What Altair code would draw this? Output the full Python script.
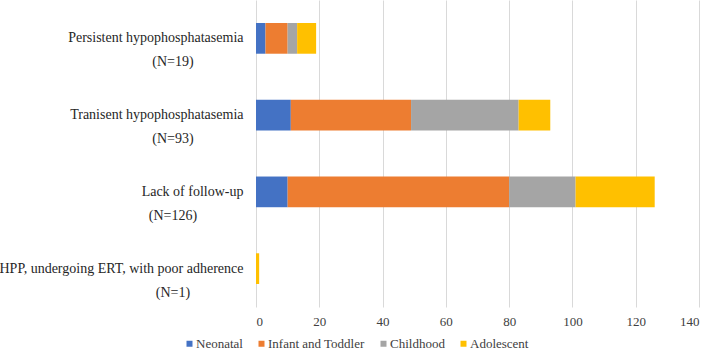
import altair as alt
import pandas as pd

# Outcome groups (top to bottom) and their group sizes
groups = [
    "Persistent hypophosphatasemia",
    "Tranisent hypophosphatasemia",
    "Lack of follow-up",
    "HPP, undergoing ERT, with poor adherence",
]
group_n = [19, 93, 126, 1]

# Age-at-presentation series, stacked left to right
ages = ["Neonatal", "Infant and Toddler", "Childhood", "Adolescent"]
age_colors = ["#4472C4", "#ED7D31", "#A5A5A5", "#FFC000"]

neonatal = [3, 11, 10, 0]
infant_toddler = [7, 38, 70, 0]
childhood = [3, 34, 21, 0]
adolescent = [6, 10, 25, 1]

x_ticks = [0, 20, 40, 60, 80, 100, 120, 140]

series = [neonatal, infant_toddler, childhood, adolescent]
rows = []
for k, (age, vals) in enumerate(zip(ages, series)):
    for g, v in zip(groups, vals):
        rows.append({"group": g, "age": age, "count": v, "order": k})
bars_df = pd.DataFrame(rows)

labels_df = pd.DataFrame(
    {"group": groups, "nlabel": [f"(N={n})" for n in group_n]}
)

FONT = "Liberation Serif"
TEXT = "#262626"

y_enc = alt.Y(
    "group:N",
    sort=groups,
    scale=alt.Scale(paddingInner=0.6, paddingOuter=0.3),
    axis=alt.Axis(
        title=None,
        ticks=False,
        domain=False,
        labelFontSize=14,
        labelPadding=13,
        labelColor=TEXT,
        labelFont=FONT,
        labelLimit=400,
    ),
)

bars = (
    alt.Chart(bars_df)
    .mark_bar()
    .encode(
        x=alt.X(
            "count:Q",
            stack="zero",
            scale=alt.Scale(domain=[0, 140], nice=False),
            axis=alt.Axis(
                title=None,
                values=x_ticks,
                grid=True,
                gridColor="#D9D9D9",
                domain=False,
                ticks=False,
                labelFontSize=13,
                labelPadding=8,
                labelColor="#404040",
                labelFont=FONT,
            ),
        ),
        y=y_enc,
        color=alt.Color(
            "age:N",
            sort=ages,
            scale=alt.Scale(domain=ages, range=age_colors),
            legend=alt.Legend(
                title=None,
                orient="none",
                direction="horizontal",
                legendX=-73,
                legendY=337,
                symbolType="square",
                symbolSize=36,
                symbolStrokeWidth=0,
                labelFontSize=13,
                labelFont=FONT,
                labelColor="#404040",
                columnPadding=12,
                labelOffset=0,
            ),
        ),
        order=alt.Order("order:Q"),
    )
)

n_text = (
    alt.Chart(labels_df)
    .mark_text(font=FONT, fontSize=14, align="center", dy=24, color=TEXT)
    .encode(
        x=alt.value(-83),
        y=alt.Y("group:N", sort=groups),
        text="nlabel:N",
    )
)

chart = (
    alt.layer(bars, n_text)
    .properties(
        width=443,
        height=307,
        background="white",
        autosize=alt.AutoSizeParams(type="none"),
        padding={"left": 256, "top": 0, "right": 10, "bottom": 45},
    )
    .configure(font=FONT)
    .configure_legend(labelFont=FONT)
    .configure_axis(labelFont=FONT)
    .configure_view(stroke=None)
)

chart.save("out.html", embed_options={"renderer": "svg", "actions": False})
